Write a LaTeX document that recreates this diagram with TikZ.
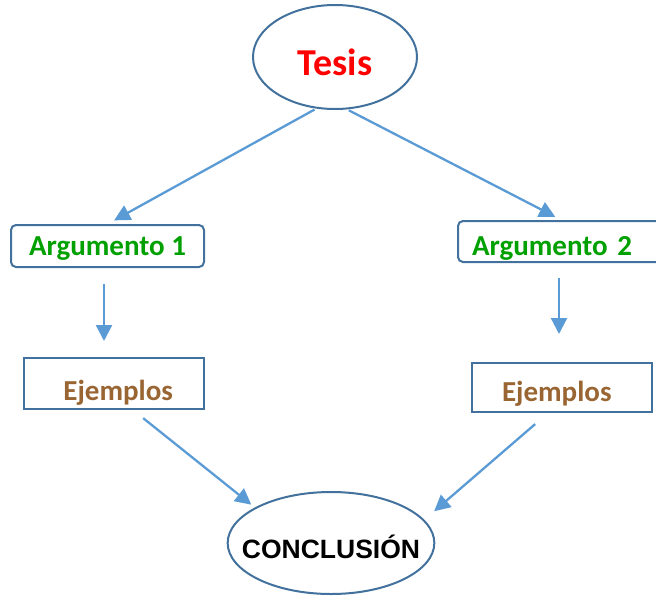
\documentclass[tikz,border=0pt]{standalone}
\usepackage{fontspec}
\setmainfont{Carlito}
\newfontfamily\arialfont{Liberation Sans}
\usetikzlibrary{arrows.meta}
\usetikzlibrary{shapes.geometric}
\definecolor{shapeline}{HTML}{41719C}
\definecolor{arrowblue}{HTML}{5B9BD5}
\definecolor{tesisred}{HTML}{FF0000}
\definecolor{arggreen}{HTML}{00A000}
\definecolor{ejbrown}{RGB}{153,102,51}
\tikzset{idea ellipse/.style={ellipse, draw=shapeline, line width=2pt, inner sep=0pt}}
\tikzset{arg box/.style={draw=shapeline, line width=2pt, rounded corners=5pt,
    text=arggreen, font=\bfseries\fontsize{29}{31}\selectfont, inner xsep=0pt, inner ysep=3pt}}
\tikzset{example box/.style={draw=shapeline, line width=2pt,
    text=ejbrown, font=\bfseries\fontsize{29}{31}\selectfont, inner ysep=3pt}}
\tikzset{flow arrow/.style={draw=arrowblue, line width=2.3pt, -{Triangle[length=16pt,width=16pt]}}}

\begin{document}
\begin{tikzpicture}[x=1pt, y=-1pt]
    \useasboundingbox (0,0) rectangle (656,595);

    \node [idea ellipse, minimum width=164pt, minimum height=104pt, text=tesisred,
      font=\bfseries\fontsize{38}{42}\selectfont, text height=37pt, text depth=0pt]
      (tesis) at (335,57) {Tesis};

    \node [arg box, minimum width=193pt, text height=27pt, text depth=9pt]
      (arg1) at (107.5,246) {Argumento 1};
    \node [arg box, inner xsep=14pt, text width=179pt, align=left, text height=31pt, text depth=4pt]
      (arg2) at (561.5,241.5) {Argumento 2};

    \node [example box, inner xsep=31pt, text width=118pt, align=right, text height=39pt, text depth=6pt]
      (ej1) at (114,383.5) {Ejemplos};
    \node [example box, inner xsep=30pt, text width=120pt, align=left, text height=35pt, text depth=8pt]
      (ej2) at (562,387.5) {Ejemplos};

    \node [idea ellipse, minimum width=204pt, minimum height=102pt, inner xsep=-16pt,
      font=\arialfont\bfseries\fontsize{26.5}{29}\selectfont, text height=31pt, text depth=0pt]
      (concl) at (331,543) {CONCLUSIÓN};

    \draw [flow arrow, shorten <=2pt, shorten >=7.5pt] (tesis.250) -- (arg1.north);
    \draw [flow arrow, shorten <=2pt, shorten >=7pt] (tesis.283) -- (arg2.north);
    \draw [flow arrow, shorten <=16pt, shorten >=16pt] ([xshift=-3.5pt]arg1.south) -- ([xshift=-10pt]ej1.north);
    \draw [flow arrow, shorten <=15pt, shorten >=28pt] ([xshift=-2.5pt]arg2.south) -- ([xshift=-3pt]ej2.north);
    \draw [flow arrow, shorten <=13pt, shorten >=4.5pt] ([xshift=19pt]ej1.south) -- (concl.155);
    \draw [flow arrow, shorten <=17pt, shorten >=13pt] ([xshift=-14pt]ej2.south) -- (concl.14);
  \end{tikzpicture}
\end{document}
